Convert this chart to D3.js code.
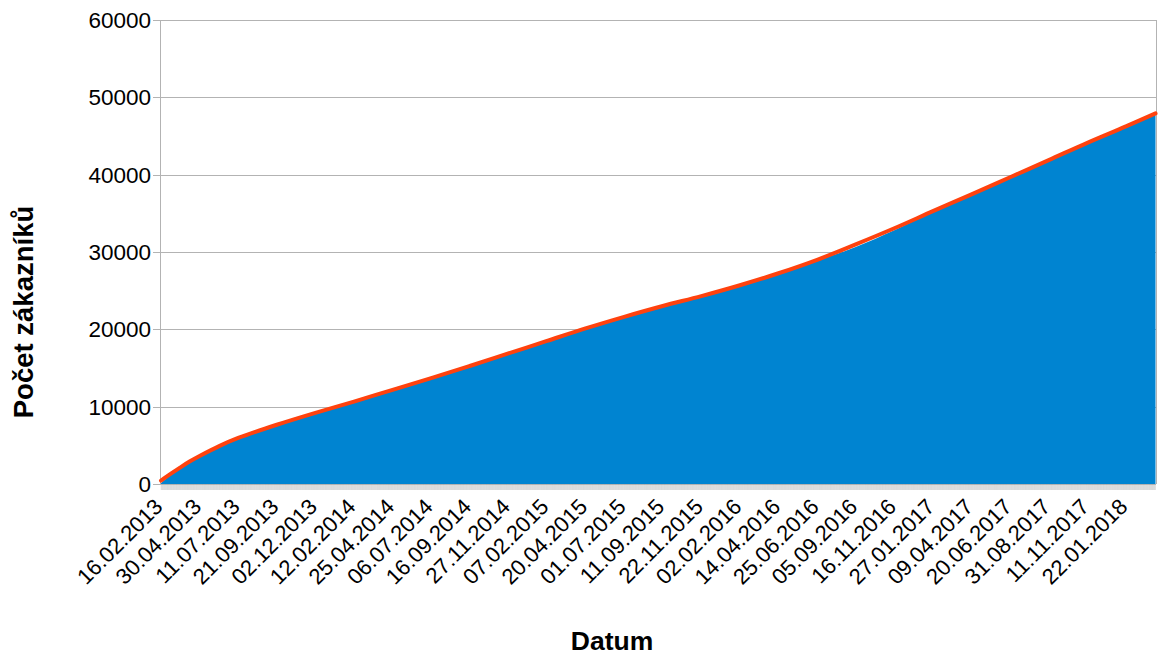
<!DOCTYPE html>
<html>
<head>
<meta charset="utf-8">
<script src="https://cdn.jsdelivr.net/npm/d3@7"></script>
<style>
  body { margin: 0; background: #fff; }
  svg { display: block; }
  text { font-family: "Liberation Sans", Arial, sans-serif; fill: #000; }
</style>
</head>
<body>
<svg id="chart" width="1158" height="652"></svg>
<script>
// Date labels on the category axis (one every 73 records)
const tickLabels = [
  "16.02.2013", "30.04.2013", "11.07.2013", "21.09.2013", "02.12.2013",
  "12.02.2014", "25.04.2014", "06.07.2014", "16.09.2014", "27.11.2014",
  "07.02.2015", "20.04.2015", "01.07.2015", "11.09.2015", "22.11.2015",
  "02.02.2016", "14.04.2016", "25.06.2016", "05.09.2016", "16.11.2016",
  "27.01.2017", "09.04.2017", "20.06.2017", "31.08.2017", "11.11.2017",
  "22.01.2018"
];
const labelStep = 73;        // records between labelled dates
const categoryCount = 1882;  // total number of records on the axis

// Record index of each sampled value
const sampleIndex = [
  0, 18, 36, 54, 73, 110, 146, 219, 292, 365, 438, 511, 584, 657, 730, 803,
  876, 949, 1022, 1095, 1168, 1241, 1314, 1387, 1460, 1533, 1606, 1679,
  1752, 1825, 1881
];

// Cumulative number of customers
const customers = [
  100, 1150, 2050, 2850, 3600, 4950, 6000, 7700, 9250, 10600, 12150, 13700,
  15250, 16850, 18450, 20100, 21570, 22970, 24300, 25720, 27400, 28900,
  30650, 32800, 35250, 37600, 39650, 41850, 44150, 46250, 47800
];

// Trend line values
const trend = [
  450, 1300, 2120, 2900, 3620, 4900, 5950, 7660, 9200, 10650, 12180, 13680,
  15260, 16880, 18500, 20120, 21620, 23020, 24300, 25700, 27250, 28990,
  30990, 33070, 35280, 37460, 39670, 41880, 44120, 46240, 47920
];

const yTicks = [0, 10000, 20000, 30000, 40000, 50000, 60000];

const svg = d3.select("#chart");
const plot = { left: 160, right: 1156, top: 20, bottom: 484 };

const x = d3.scaleLinear()
  .domain([0, categoryCount - 1])
  .range([plot.left + 1, plot.right - 0.5]);

const y = d3.scaleLinear()
  .domain([0, 60000])
  .range([plot.bottom, plot.top]);

const gridColor = "#b3b3b3";

// horizontal gridlines with short outer ticks
svg.append("g")
  .selectAll("line")
  .data(yTicks)
  .join("line")
  .attr("x1", plot.left - 7)
  .attr("x2", plot.right)
  .attr("y1", d => Math.round(y(d)) + 0.5)
  .attr("y2", d => Math.round(y(d)) + 0.5)
  .attr("stroke", gridColor)
  .attr("stroke-width", 1);

// right border of the plot
svg.append("line")
  .attr("x1", plot.right + 0.5).attr("x2", plot.right + 0.5)
  .attr("y1", plot.top).attr("y2", plot.bottom)
  .attr("stroke", gridColor);

// category ticks along the x axis
const cats = d3.range(categoryCount);
svg.append("g")
  .selectAll("line")
  .data(cats)
  .join("line")
  .attr("x1", d => x(d))
  .attr("x2", d => x(d))
  .attr("y1", plot.bottom)
  .attr("y2", plot.bottom + 6)
  .attr("stroke", gridColor)
  .attr("stroke-width", 0.3);

const points = sampleIndex.map((idx, i) => ({ idx, c: customers[i], t: trend[i] }));

// customer area
const area = d3.area()
  .x(d => x(d.idx))
  .y0(y(0))
  .y1(d => y(d.c))
  .curve(d3.curveCatmullRom.alpha(0.5));

svg.append("path")
  .datum(points)
  .attr("d", area)
  .attr("fill", "#0084d1");

// y axis line
svg.append("line")
  .attr("x1", plot.left + 0.5).attr("x2", plot.left + 0.5)
  .attr("y1", plot.top).attr("y2", plot.bottom + 1)
  .attr("stroke", gridColor);

// trend line
const line = d3.line()
  .x(d => x(d.idx))
  .y(d => y(d.t))
  .curve(d3.curveCatmullRom.alpha(0.5));

svg.append("path")
  .datum(points)
  .attr("d", line)
  .attr("fill", "none")
  .attr("stroke", "#ff420e")
  .attr("stroke-width", 4)
  .attr("stroke-linecap", "round");

// y tick labels
svg.append("g")
  .selectAll("text")
  .data(yTicks)
  .join("text")
  .attr("x", plot.left - 9)
  .attr("y", d => y(d))
  .attr("dy", "0.36em")
  .attr("text-anchor", "end")
  .attr("font-size", 22.5)
  .text(d => d);

// x tick labels, rotated 45 degrees
svg.append("g")
  .selectAll("text")
  .data(tickLabels)
  .join("text")
  .attr("transform", (d, i) => `translate(${x(i * labelStep) + 3},${plot.bottom + 24}) rotate(-45)`)
  .attr("text-anchor", "end")
  .attr("font-size", 22)
  .text(d => d);

// axis titles
svg.append("text")
  .attr("x", 612)
  .attr("y", 650)
  .attr("text-anchor", "middle")
  .attr("font-size", 26.5)
  .attr("font-weight", "bold")
  .text("Datum");

svg.append("text")
  .attr("transform", "translate(33,312) rotate(-90)")
  .attr("text-anchor", "middle")
  .attr("font-size", 27.5)
  .attr("font-weight", "bold")
  .text("Počet zákazníků");
</script>
</body>
</html>
